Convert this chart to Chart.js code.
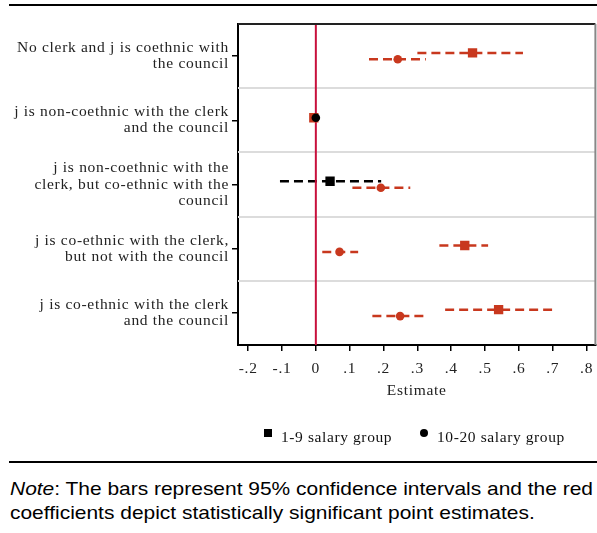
<!DOCTYPE html>
<html>
<head>
<meta charset="utf-8">
<script src="https://cdn.jsdelivr.net/npm/chart.js@4/dist/chart.umd.min.js"></script>
<style>
  html, body { margin: 0; padding: 0; background: #fff; }
  #wrap { position: relative; width: 597px; height: 533px; overflow: hidden; }
  #c { position: absolute; left: 0; top: 0; }
  .rule { position: absolute; left: 9px; width: 588px; height: 2px; background: #000; }
  .leg { position: absolute; font-family: "Liberation Serif", serif; font-size: 15.5px; letter-spacing: 0.6px; color: #111; white-space: nowrap; }
  .note { position: absolute; left: 10px; font-family: "Liberation Sans", Arial, sans-serif; font-size: 19px; line-height: 24px; color: #000; white-space: nowrap; transform-origin: 0 0; }
</style>
</head>
<body>
<div id="wrap">
  <div class="rule" style="top:4px;"></div>
  <canvas id="c" width="602" height="460"></canvas>
  <div style="position:absolute;left:264px;top:429px;width:8px;height:8px;background:#000;"></div>
  <div class="leg" style="left:281px;top:428px;">1-9 salary group</div>
  <div style="position:absolute;left:420px;top:429px;width:8px;height:8px;border-radius:50%;background:#000;"></div>
  <div class="leg" style="left:437px;top:428px;">10-20 salary group</div>
  <div class="rule" style="top:461px;"></div>
  <div class="note" id="n1" style="top:477px;"><i>Note</i>: The bars represent 95% confidence intervals and the red</div>
  <div class="note" id="n2" style="top:501px;">coefficients depict statistically significant point estimates.</div>
</div>
<script>
// ---- data ----
const categories = [
  ["No clerk and j is coethnic with", "the council"],
  ["j is non-coethnic with the clerk", "and the council"],
  ["j is non-coethnic with the", "clerk, but co-ethnic with the", "council"],
  ["j is co-ethnic with the clerk,", "but not with the council"],
  ["j is co-ethnic with the clerk", "and the council"]
];
const seriesNames = ["1-9 salary group", "10-20 salary group"];
// 1-9 salary group (squares)
const low_est = [0.463, -0.006, 0.042, 0.440, 0.540];
const low_lo  = [0.300, null, -0.106, 0.365, 0.382];
const low_hi  = [0.612, null, 0.193, 0.509, 0.698];
const low_sig = [true, true, false, true, true];
// 10-20 salary group (circles)
const high_est = [0.242, 0.000, 0.192, 0.070, 0.249];
const high_lo  = [0.157, null, 0.108, 0.019, 0.167];
const high_hi  = [0.325, null, 0.279, 0.125, 0.320];
const high_sig = [true, false, true, true, true];
// axis ticks
const xTicks = [-0.2, -0.1, 0, 0.1, 0.2, 0.3, 0.4, 0.5, 0.6, 0.7, 0.8];
const xTickLabels = ["-.2", "-.1", "0", ".1", ".2", ".3", ".4", ".5", ".6", ".7", ".8"];

// stretch note lines to the reference's text width
(function () {
  const n1 = document.getElementById('n1'), n2 = document.getElementById('n2');
  const s = 583 / n1.getBoundingClientRect().width;
  n1.style.transform = 'scaleX(' + s + ')';
  n2.style.transform = 'scaleX(' + s + ')';
})();

// ---- styling ----
const RED = "#c8381e";
const BLACK = "#000000";
const ZERO = "#c8103c";
const SERIF = "'Liberation Serif', 'Times New Roman', serif";

function yPos(i, s) {
  // reference category (no CI) draws both markers at the same level
  if (low_lo[i] === null) return i + 1 - 0.04;
  return i + 1 + (s === 0 ? -0.05 : 0.05);
}

const datasets = [];
// confidence interval lines
[[low_est, low_lo, low_hi, low_sig], [high_est, high_lo, high_hi, high_sig]].forEach((ser, s) => {
  const [est, lo, hi, sig] = ser;
  est.forEach((v, i) => {
    if (lo[i] === null) return;
    datasets.push({
      type: 'line',
      data: [{x: lo[i], y: yPos(i, s)}, {x: hi[i], y: yPos(i, s)}],
      borderColor: sig[i] ? RED : BLACK,
      borderWidth: 2.5,
      borderDash: [9, 5],
      borderCapStyle: 'butt',
      pointRadius: 0,
      fill: false,
      order: 3
    });
  });
});
// zero reference line
datasets.push({
  type: 'line',
  data: [{x: 0, y: 0.5}, {x: 0, y: 5.5}],
  borderColor: ZERO,
  borderWidth: 2,
  pointRadius: 0,
  fill: false,
  order: 2
});
// point estimates
datasets.push({
  type: 'scatter',
  label: seriesNames[0],
  data: low_est.map((v, i) => ({x: v, y: yPos(i, 0)})),
  pointStyle: 'rect',
  pointRadius: 6.6,
  pointBackgroundColor: low_sig.map(b => b ? RED : BLACK),
  pointBorderWidth: 0,
  order: 1
});
datasets.push({
  type: 'scatter',
  label: seriesNames[1],
  data: high_est.map((v, i) => ({x: v, y: yPos(i, 1)})),
  pointStyle: 'circle',
  pointRadius: 4.3,
  pointBackgroundColor: high_sig.map(b => b ? RED : BLACK),
  pointBorderWidth: 0,
  order: 0
});

const framePlugin = {
  id: 'frame',
  beforeDraw(chart) {
    chart.ctx.letterSpacing = '0.7px';
  },
  beforeDatasetsDraw(chart) {
    const {ctx, chartArea: a, scales: {y}} = chart;
    ctx.save();
    ctx.strokeStyle = '#dcdcdc';
    ctx.lineWidth = 2;
    for (let k = 1; k < categories.length; k++) {
      const py = Math.round(y.getPixelForValue(k + 0.5));
      ctx.beginPath();
      ctx.moveTo(a.left, py);
      ctx.lineTo(a.right, py);
      ctx.stroke();
    }
    ctx.restore();
  },
  afterDraw(chart) {
    const {ctx, chartArea: a} = chart;
    ctx.save();
    ctx.lineWidth = 2;
    ctx.strokeStyle = '#222';
    ctx.beginPath();
    ctx.moveTo(a.left, a.top);
    ctx.lineTo(a.right, a.top);
    ctx.stroke();
    ctx.strokeStyle = '#888';
    ctx.beginPath();
    ctx.moveTo(a.right, a.top);
    ctx.lineTo(a.right, a.bottom);
    ctx.stroke();
    ctx.restore();
  }
};

new Chart(document.getElementById('c'), {
  type: 'scatter',
  data: { datasets },
  plugins: [framePlugin],
  options: {
    responsive: false,
    animation: false,
    devicePixelRatio: 1,
    layout: { padding: { top: 24, right: 2, bottom: 60, left: 0 } },
    plugins: { legend: { display: false }, tooltip: { enabled: false } },
    scales: {
      x: {
        type: 'linear',
        min: -0.23,
        max: 0.826,
        afterBuildTicks: (sc) => { sc.ticks = xTicks.map(v => ({value: v})); },
        afterFit: (sc) => { sc.height = 55; sc.paddingLeft = 0; sc.paddingRight = 0; },
        ticks: {
          autoSkip: false,
          maxRotation: 0,
          padding: 9,
          color: '#222',
          font: { family: SERIF, size: 15.5 },
          callback: (v, i) => xTickLabels[i]
        },
        grid: { drawOnChartArea: false, drawTicks: true, tickLength: 6, color: '#000', lineWidth: 1.5 },
        border: { display: true, color: '#000', width: 2 },
        title: { display: true, text: 'Estimate', color: '#222', font: { family: SERIF, size: 15.5 }, padding: { top: 4, bottom: 0 } }
      },
      y: {
        type: 'linear',
        reverse: true,
        min: 0.5,
        max: 5.5,
        afterBuildTicks: (sc) => { sc.ticks = categories.map((c, i) => ({value: i + 1})); },
        afterFit: (sc) => { sc.width = 238; sc.paddingTop = 0; sc.paddingBottom = 0; },
        ticks: {
          autoSkip: false,
          padding: 3,
          color: '#222',
          font: { family: SERIF, size: 15.5, lineHeight: 1.04 },
          callback: (v) => categories[Math.round(v) - 1]
        },
        grid: { drawOnChartArea: false, drawTicks: true, tickLength: 6, color: '#000', lineWidth: 1.5 },
        border: { display: true, color: '#000', width: 2 }
      }
    }
  }
});
</script>
</body>
</html>
